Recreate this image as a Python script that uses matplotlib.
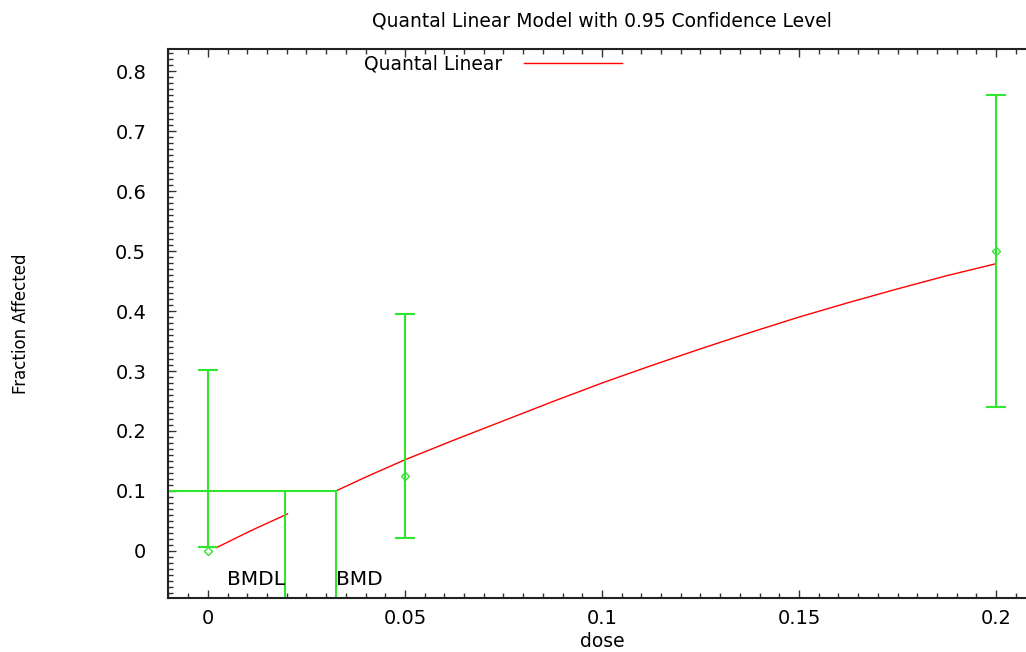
import matplotlib
matplotlib.use("Agg")
import matplotlib.pyplot as plt
from matplotlib.ticker import MultipleLocator
import numpy as np

# observed data with confidence limits
dose = [0.0, 0.05, 0.2]
frac = [0.0, 0.125, 0.5]
lower = [0.006, 0.022, 0.240]
upper = [0.301, 0.395, 0.760]

# fitted curve
fit_low_dose = [0.0022, 0.011, 0.0202]
fit_low_frac = [0.0055, 0.034, 0.0617]
fit_dose = [0.0325, 0.04, 0.05, 0.0625, 0.075, 0.0875, 0.1, 0.1125, 0.125,
            0.1375, 0.15, 0.1625, 0.175, 0.1875, 0.2]
fit_frac = [0.100, 0.123, 0.152, 0.185, 0.217, 0.249, 0.280, 0.309, 0.337,
            0.364, 0.390, 0.414, 0.437, 0.459, 0.479]

bmr = 0.1
bmd = 0.0325
bmdl = 0.0195

xlim = (-0.01, 0.21)
ylim = (-0.078, 0.837)

green = "#2ee62e"
red = "#ff0000"

plt.rcParams["font.family"] = ["DejaVu Sans"]

fig = plt.figure(figsize=(10.26, 6.52), dpi=100)
ax = fig.add_axes([0.1642, 0.0833, 0.845, 0.8415])

ax.plot(fit_low_dose, fit_low_frac, color=red, lw=1.0)
ax.plot(fit_dose, fit_frac, color=red, lw=1.0, label="Quantal Linear")

# confidence bars (limits are not symmetric around the point)
mid = (np.array(lower) + np.array(upper)) / 2
half = (np.array(upper) - np.array(lower)) / 2
ax.errorbar(dose, mid, yerr=half, fmt="none", ecolor=green,
            elinewidth=1.5, capsize=7.5, capthick=1.5)
ax.plot(dose, frac, "D", color=green, mfc="none", ms=4.5, mew=1.0)

ax.plot([xlim[0], bmd], [bmr, bmr], color=green, lw=1.5)
ax.plot([bmdl, bmdl], [ylim[0], bmr], color=green, lw=1.5)
ax.plot([bmd, bmd], [ylim[0], bmr], color=green, lw=1.5)
ax.text(bmdl, -0.048, "BMDL", ha="right", va="center", fontsize=14.5)
ax.text(bmd, -0.048, "BMD", ha="left", va="center", fontsize=14.5)

ax.set_xlim(*xlim)
ax.set_ylim(*ylim)
ax.set_xticks([0, 0.05, 0.1, 0.15, 0.2], ["0", "0.05", "0.1", "0.15", "0.2"])
ax.set_yticks(np.round(np.arange(0, 0.81, 0.1), 1),
              ["0", "0.1", "0.2", "0.3", "0.4", "0.5", "0.6", "0.7", "0.8"])
ax.xaxis.set_minor_locator(MultipleLocator(0.005))
ax.yaxis.set_minor_locator(MultipleLocator(0.01))
ax.tick_params(which="both", direction="in", top=True, right=True,
               color="#333333", labelsize=14, width=1.0)
ax.tick_params(which="major", length=6)
ax.tick_params(which="minor", length=3.5)
ax.tick_params(axis="x", pad=8)
ax.tick_params(axis="y", pad=16)
for s in ax.spines.values():
    s.set_linewidth(1.5)
    s.set_color("#222222")

ax.set_xlabel("dose", fontsize=13.5, labelpad=3)
ax.set_ylabel("Fraction Affected", fontsize=12)
ax.yaxis.set_label_coords(-0.16, 0.5)
ax.set_title("Quantal Linear Model with 0.95 Confidence Level", fontsize=13.5, pad=16)

ax.legend(loc="center", bbox_to_anchor=(0.374, 0.973), frameon=False,
          markerfirst=False, fontsize=13.5, handlelength=5.2, handletextpad=1.2,
          borderpad=0, borderaxespad=0)

fig.savefig("out.png", dpi=100, facecolor="white")
